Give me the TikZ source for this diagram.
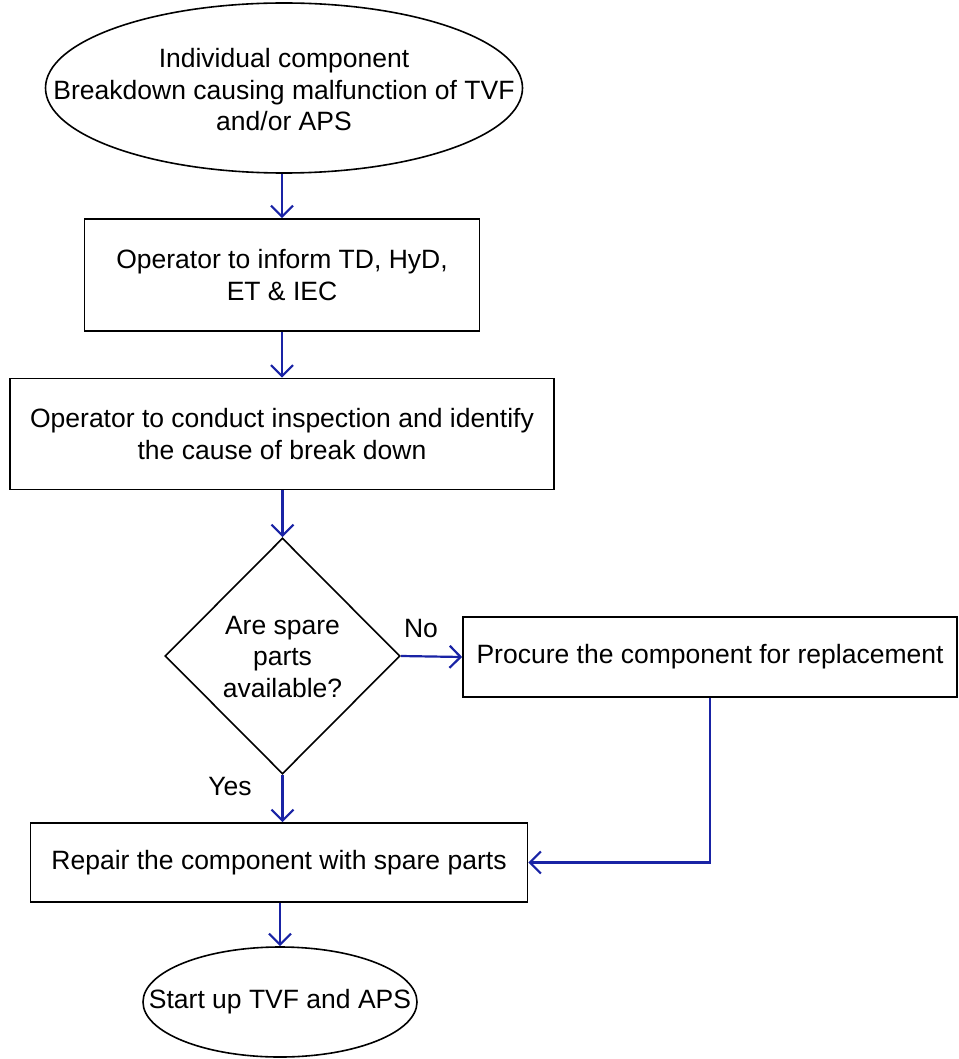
\documentclass[tikz,border=0pt]{standalone}
\usepackage{fontspec}
\setmainfont{Liberation Sans}
\usetikzlibrary{shapes.geometric,arrows.meta}
\definecolor{linkblue}{RGB}{25,35,165}
\begin{document}
\begin{tikzpicture}[x=1pt,y=-1pt,
  every node/.style={font=\fontsize{26.5}{31.5}\selectfont, align=center, inner sep=0pt},
  boxnode/.style={draw=black, line width=1.6pt, rectangle},
  ellnode/.style={draw=black, line width=1.6pt, ellipse},
  decnode/.style={draw=black, line width=1.6pt, diamond},
  link/.style={draw=linkblue, line width=2.2pt, -{Straight Barb[length=11pt,width=22pt,line width=2.2pt]}},
  lbl/.style={font=\fontsize{26.5}{31.5}\selectfont}]
\useasboundingbox (0,0) rectangle (958,1059);
\node[ellnode, minimum width=477pt, minimum height=170pt] (start) at (284,88) {};
\node (starttext) at (284,90)
  {Individual component\\Breakdown causing malfunction of TVF\\and/or APS};
\node[boxnode, minimum width=395pt, minimum height=112pt] (inform) at (282,275)
  {Operator to inform TD, HyD,\\ET \& IEC};
\node[boxnode, minimum width=544pt, minimum height=111pt] (inspect) at (282,434)
  {Operator to conduct inspection and identify\\the cause of break down};
\node[decnode, minimum width=235pt, minimum height=236pt] (spare) at (282.5,656) {};
\node (sparetext) at (282.5,657) {Are spare\\parts\\available?};
\node[boxnode, minimum width=494pt, minimum height=80pt] (procure) at (710,657)
  {Procure the component for replacement};
\node[boxnode, minimum width=497pt, minimum height=79pt] (repair) at (279,862.5)
  {Repair the component with spare parts};
\node[ellnode, minimum width=274pt, minimum height=110pt] (end) at (280,1002) {};
\node (endtext) at (280,1002) {Start up TVF and APS};
\draw[link] (start.south -| inform.north) -- (inform.north);
\draw[link] (inform.south) -- (inspect.north -| inform.south);
\draw[link] (inspect.south -| spare.north) -- (spare.north);
\draw[link] (spare.east) -- (procure.west);
\draw[link] (spare.south) -- (repair.north -| spare.south);
\draw[link] (repair.south -| end.north) -- (end.north);
\draw[link] (procure.south) |- (repair.east);
\node[lbl] (no) at (421,629) {No};
\node[lbl] (yes) at (230,787) {Yes};
\end{tikzpicture}
\end{document}
